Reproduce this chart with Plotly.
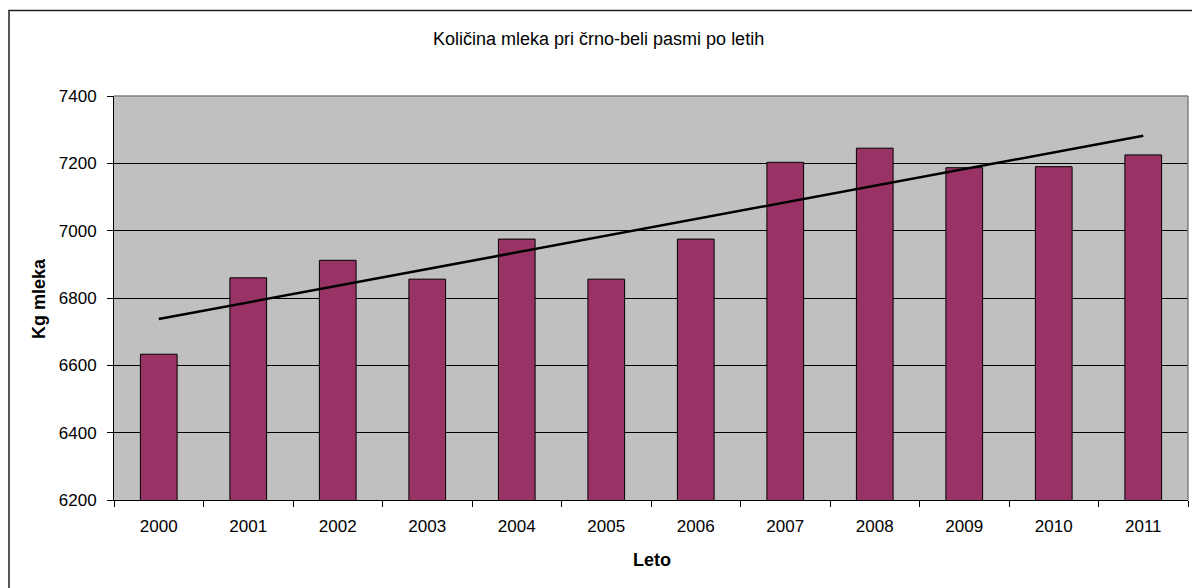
import numpy as np
import plotly.graph_objects as go

years = ["2000", "2001", "2002", "2003", "2004", "2005", "2006", "2007", "2008", "2009", "2010", "2011"]
milk_kg = [6633, 6860, 6912, 6856, 6975, 6856, 6975, 7203, 7245, 7187, 7190, 7225]
y_ticks = [6200, 6400, 6600, 6800, 7000, 7200, 7400]

title_text = "Količina mleka pri črno-beli pasmi po letih"
x_title = "Leto"
y_title = "Kg mleka"

# linear trendline (least squares, as in Excel)
xi = np.arange(len(years))
slope, intercept = np.polyfit(xi, milk_kg, 1)
trend = (intercept + slope * xi).tolist()

W, H = 1192, 588
L, R, T, B = 114, 4, 96, 88
pw, ph = W - L - R, H - T - B

def px_x(p):
    return (p - L) / pw

def px_y(p):
    return (H - B - p) / ph

FONT = "Liberation Sans, Arial, sans-serif"

fig = go.Figure()
fig.add_trace(go.Bar(
    x=years, y=milk_kg,
    marker=dict(color="#993366", line=dict(color="#000000", width=1)),
    width=0.41,
    showlegend=False,
))
fig.add_trace(go.Scatter(
    x=years, y=trend, mode="lines",
    line=dict(color="#000000", width=2.5),
    showlegend=False,
))

fig.update_layout(
    width=W, height=H,
    margin=dict(l=L, r=R, t=T, b=B, pad=0),
    paper_bgcolor="#FFFFFF",
    plot_bgcolor="#C0C0C0",
    font=dict(family=FONT, size=17, color="#000000"),
    showlegend=False,
    bargap=0.59,
)

fig.update_xaxes(
    type="category",
    tickson="boundaries",
    ticks="outside", ticklen=6, tickcolor="#000000", tickwidth=1,
    showline=True, linecolor="#000000", linewidth=1,
    showgrid=False,
    tickfont=dict(family=FONT, size=17, color="#000000"),
    ticklabelstandoff=11,
)
fig.update_yaxes(
    range=[6200, 7400],
    tickvals=y_ticks,
    ticktext=[str(v) for v in y_ticks],
    ticks="outside", ticklen=6, tickcolor="#000000", tickwidth=1,
    showline=True, linecolor="#000000", linewidth=1,
    showgrid=True, gridcolor="#000000", gridwidth=1,
    zeroline=False,
    tickfont=dict(family=FONT, size=17, color="#000000"),
    ticklabelstandoff=7,
)

shapes = [
    # plot-area border (top and right, grey)
    dict(type="line", xref="paper", yref="paper", x0=0, x1=1, y0=1, y1=1,
         line=dict(color="#808080", width=1.5), layer="above"),
    dict(type="line", xref="paper", yref="paper", x0=1, x1=1, y0=0, y1=1,
         line=dict(color="#808080", width=1.5), layer="above"),
    # chart-area outer border
    dict(type="rect", xref="paper", yref="paper",
         x0=px_x(9), x1=px_x(W + 6), y0=px_y(H + 6), y1=px_y(10.5),
         line=dict(color="#222222", width=1.5), fillcolor="rgba(0,0,0,0)", layer="above"),
]
fig.update_layout(shapes=shapes)

annotations = [
    dict(text=title_text, xref="paper", yref="paper", x=px_x(598.3), y=px_y(39.5),
         xanchor="center", yanchor="middle", showarrow=False,
         font=dict(family=FONT, size=18, color="#000000")),
    dict(text="<b>%s</b>" % x_title, xref="paper", yref="paper", x=px_x(651.5), y=px_y(559.5),
         xanchor="center", yanchor="middle", showarrow=False,
         font=dict(family=FONT, size=18, color="#000000")),
    dict(text="<b>%s</b>" % y_title, xref="paper", yref="paper", x=px_x(39), y=px_y(299),
         xanchor="center", yanchor="middle", showarrow=False, textangle=-90,
         font=dict(family=FONT, size=18, color="#000000")),
]
fig.update_layout(annotations=annotations)

fig.write_html("out.html")
